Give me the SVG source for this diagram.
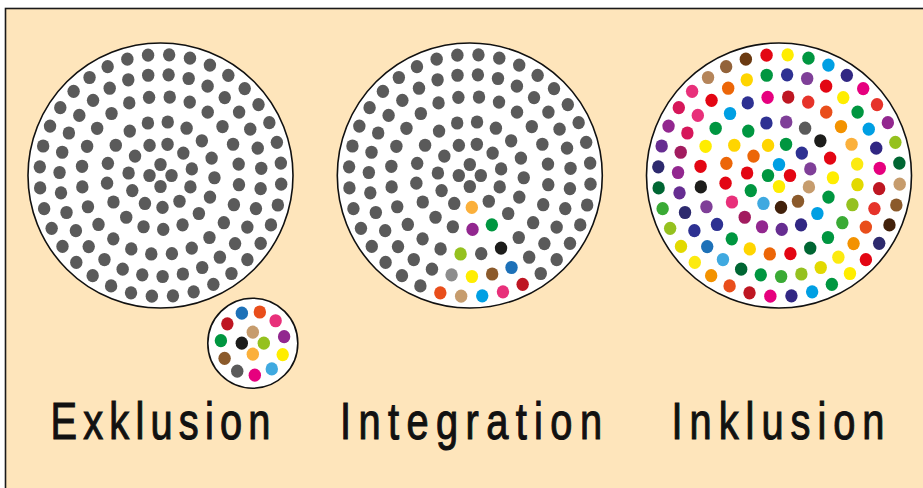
<svg xmlns="http://www.w3.org/2000/svg" xmlns:xlink="http://www.w3.org/1999/xlink" width="923" height="488" viewBox="0 0 923 488">
<style>
.bg{fill:#fee5bb;stroke:#1a1a1a;stroke-width:1.6}
.disk{fill:#fff;stroke:#111;stroke-width:1.6}
.lbl{font-family:"Liberation Sans",Arial,sans-serif;font-size:51px;fill:#111;stroke:#111;stroke-width:1.1;stroke-linejoin:miter}
.g5{fill:#5a5a5a}.lb{fill:#009fe3}.rd{fill:#e30613}.ye{fill:#ffed00}.gr{fill:#009640}.nv{fill:#2e3192}.pu{fill:#7f3f98}.tn{fill:#c69c6d}.br{fill:#8b5a2b}.db{fill:#42210b}.sb{fill:#3fa9e0}.or{fill:#ec6608}.bk{fill:#1d1d1b}.in{fill:#312783}.vi{fill:#662d91}.mp{fill:#92278f}.ma{fill:#a21c5f}.pk{fill:#e8307a}.cr{fill:#be1622}.ro{fill:#e6332a}.oe{fill:#e94e1b}.o2{fill:#f39200}.lo{fill:#fbb03b}.y2{fill:#fcea10}.ol{fill:#e2d900}.li{fill:#95c11f}.lg{fill:#3aaa35}.dg{fill:#006633}.bl{fill:#1d71b8}.dn{fill:#2d2a6e}.rs{fill:#d6175a}.go{fill:#ffd500}.mg{fill:#e6007e}.gy{fill:#8c8c8c}.b1{fill:#b5855a}.b2{fill:#93633a}.b3{fill:#6b3a11}
</style>
<defs>
<ellipse id="d" rx="6.2" ry="6.6"/>
<g id="pat">
<use href="#d" transform="translate(0,-11)"/>
<use href="#d" transform="rotate(90)translate(0,-11)rotate(-90)"/>
<use href="#d" transform="rotate(180)translate(0,-11)rotate(-180)"/>
<use href="#d" transform="rotate(270)translate(0,-11)rotate(-270)"/>
<use href="#d" transform="rotate(-20)translate(0,-32)rotate(20)"/>
<use href="#d" transform="rotate(12.7)translate(0,-32)rotate(-12.7)"/>
<use href="#d" transform="rotate(45.5)translate(0,-32)rotate(-45.5)"/>
<use href="#d" transform="rotate(78.2)translate(0,-32)rotate(-78.2)"/>
<use href="#d" transform="rotate(110.9)translate(0,-32)rotate(-110.9)"/>
<use href="#d" transform="rotate(143.6)translate(0,-32)rotate(-143.6)"/>
<use href="#d" transform="rotate(176.4)translate(0,-32)rotate(-176.4)"/>
<use href="#d" transform="rotate(209.1)translate(0,-32)rotate(-209.1)"/>
<use href="#d" transform="rotate(241.8)translate(0,-32)rotate(-241.8)"/>
<use href="#d" transform="rotate(274.5)translate(0,-32)rotate(-274.5)"/>
<use href="#d" transform="rotate(307.3)translate(0,-32)rotate(-307.3)"/>
<use href="#d" transform="rotate(-13.5)translate(0,-54)rotate(13.5)"/>
<use href="#d" transform="rotate(7.7)translate(0,-54)rotate(-7.7)"/>
<use href="#d" transform="rotate(28.9)translate(0,-54)rotate(-28.9)"/>
<use href="#d" transform="rotate(50)translate(0,-54)rotate(-50)"/>
<use href="#d" transform="rotate(71.2)translate(0,-54)rotate(-71.2)"/>
<use href="#d" transform="rotate(92.4)translate(0,-54)rotate(-92.4)"/>
<use href="#d" transform="rotate(113.6)translate(0,-54)rotate(-113.6)"/>
<use href="#d" transform="rotate(134.7)translate(0,-54)rotate(-134.7)"/>
<use href="#d" transform="rotate(155.9)translate(0,-54)rotate(-155.9)"/>
<use href="#d" transform="rotate(177.1)translate(0,-54)rotate(-177.1)"/>
<use href="#d" transform="rotate(198.3)translate(0,-54)rotate(-198.3)"/>
<use href="#d" transform="rotate(219.4)translate(0,-54)rotate(-219.4)"/>
<use href="#d" transform="rotate(240.6)translate(0,-54)rotate(-240.6)"/>
<use href="#d" transform="rotate(261.8)translate(0,-54)rotate(-261.8)"/>
<use href="#d" transform="rotate(283)translate(0,-54)rotate(-283)"/>
<use href="#d" transform="rotate(304.1)translate(0,-54)rotate(-304.1)"/>
<use href="#d" transform="rotate(325.3)translate(0,-54)rotate(-325.3)"/>
<use href="#d" transform="rotate(-8.3)translate(0,-79)rotate(8.3)"/>
<use href="#d" transform="rotate(6.7)translate(0,-79)rotate(-6.7)"/>
<use href="#d" transform="rotate(21.7)translate(0,-79)rotate(-21.7)"/>
<use href="#d" transform="rotate(36.7)translate(0,-79)rotate(-36.7)"/>
<use href="#d" transform="rotate(51.7)translate(0,-79)rotate(-51.7)"/>
<use href="#d" transform="rotate(66.7)translate(0,-79)rotate(-66.7)"/>
<use href="#d" transform="rotate(81.7)translate(0,-79)rotate(-81.7)"/>
<use href="#d" transform="rotate(96.7)translate(0,-79)rotate(-96.7)"/>
<use href="#d" transform="rotate(111.7)translate(0,-79)rotate(-111.7)"/>
<use href="#d" transform="rotate(126.7)translate(0,-79)rotate(-126.7)"/>
<use href="#d" transform="rotate(141.7)translate(0,-79)rotate(-141.7)"/>
<use href="#d" transform="rotate(156.7)translate(0,-79)rotate(-156.7)"/>
<use href="#d" transform="rotate(171.7)translate(0,-79)rotate(-171.7)"/>
<use href="#d" transform="rotate(186.7)translate(0,-79)rotate(-186.7)"/>
<use href="#d" transform="rotate(201.7)translate(0,-79)rotate(-201.7)"/>
<use href="#d" transform="rotate(216.7)translate(0,-79)rotate(-216.7)"/>
<use href="#d" transform="rotate(231.7)translate(0,-79)rotate(-231.7)"/>
<use href="#d" transform="rotate(246.7)translate(0,-79)rotate(-246.7)"/>
<use href="#d" transform="rotate(261.7)translate(0,-79)rotate(-261.7)"/>
<use href="#d" transform="rotate(276.7)translate(0,-79)rotate(-276.7)"/>
<use href="#d" transform="rotate(291.7)translate(0,-79)rotate(-291.7)"/>
<use href="#d" transform="rotate(306.7)translate(0,-79)rotate(-306.7)"/>
<use href="#d" transform="rotate(321.7)translate(0,-79)rotate(-321.7)"/>
<use href="#d" transform="rotate(336.7)translate(0,-79)rotate(-336.7)"/>
<use href="#d" transform="rotate(-7)translate(0,-101)rotate(7)"/>
<use href="#d" transform="rotate(4.6)translate(0,-101)rotate(-4.6)"/>
<use href="#d" transform="rotate(16.2)translate(0,-101)rotate(-16.2)"/>
<use href="#d" transform="rotate(27.8)translate(0,-101)rotate(-27.8)"/>
<use href="#d" transform="rotate(39.5)translate(0,-101)rotate(-39.5)"/>
<use href="#d" transform="rotate(51.1)translate(0,-101)rotate(-51.1)"/>
<use href="#d" transform="rotate(62.7)translate(0,-101)rotate(-62.7)"/>
<use href="#d" transform="rotate(74.3)translate(0,-101)rotate(-74.3)"/>
<use href="#d" transform="rotate(85.9)translate(0,-101)rotate(-85.9)"/>
<use href="#d" transform="rotate(97.5)translate(0,-101)rotate(-97.5)"/>
<use href="#d" transform="rotate(109.1)translate(0,-101)rotate(-109.1)"/>
<use href="#d" transform="rotate(120.7)translate(0,-101)rotate(-120.7)"/>
<use href="#d" transform="rotate(132.4)translate(0,-101)rotate(-132.4)"/>
<use href="#d" transform="rotate(144)translate(0,-101)rotate(-144)"/>
<use href="#d" transform="rotate(155.6)translate(0,-101)rotate(-155.6)"/>
<use href="#d" transform="rotate(167.2)translate(0,-101)rotate(-167.2)"/>
<use href="#d" transform="rotate(178.8)translate(0,-101)rotate(-178.8)"/>
<use href="#d" transform="rotate(190.4)translate(0,-101)rotate(-190.4)"/>
<use href="#d" transform="rotate(202)translate(0,-101)rotate(-202)"/>
<use href="#d" transform="rotate(213.7)translate(0,-101)rotate(-213.7)"/>
<use href="#d" transform="rotate(225.3)translate(0,-101)rotate(-225.3)"/>
<use href="#d" transform="rotate(236.9)translate(0,-101)rotate(-236.9)"/>
<use href="#d" transform="rotate(248.5)translate(0,-101)rotate(-248.5)"/>
<use href="#d" transform="rotate(260.1)translate(0,-101)rotate(-260.1)"/>
<use href="#d" transform="rotate(271.7)translate(0,-101)rotate(-271.7)"/>
<use href="#d" transform="rotate(283.3)translate(0,-101)rotate(-283.3)"/>
<use href="#d" transform="rotate(294.9)translate(0,-101)rotate(-294.9)"/>
<use href="#d" transform="rotate(306.5)translate(0,-101)rotate(-306.5)"/>
<use href="#d" transform="rotate(318.1)translate(0,-101)rotate(-318.1)"/>
<use href="#d" transform="rotate(329.8)translate(0,-101)rotate(-329.8)"/>
<use href="#d" transform="rotate(341.4)translate(0,-101)rotate(-341.4)"/>
<use href="#d" transform="rotate(-5.9)translate(0,-121)rotate(5.9)"/>
<use href="#d" transform="rotate(4.1)translate(0,-121)rotate(-4.1)"/>
<use href="#d" transform="rotate(14.1)translate(0,-121)rotate(-14.1)"/>
<use href="#d" transform="rotate(24.1)translate(0,-121)rotate(-24.1)"/>
<use href="#d" transform="rotate(34.1)translate(0,-121)rotate(-34.1)"/>
<use href="#d" transform="rotate(44.1)translate(0,-121)rotate(-44.1)"/>
<use href="#d" transform="rotate(54.1)translate(0,-121)rotate(-54.1)"/>
<use href="#d" transform="rotate(64.1)translate(0,-121)rotate(-64.1)"/>
<use href="#d" transform="rotate(74.1)translate(0,-121)rotate(-74.1)"/>
<use href="#d" transform="rotate(84.1)translate(0,-121)rotate(-84.1)"/>
<use href="#d" transform="rotate(94.1)translate(0,-121)rotate(-94.1)"/>
<use href="#d" transform="rotate(104.1)translate(0,-121)rotate(-104.1)"/>
<use href="#d" transform="rotate(114.1)translate(0,-121)rotate(-114.1)"/>
<use href="#d" transform="rotate(124.1)translate(0,-121)rotate(-124.1)"/>
<use href="#d" transform="rotate(134.1)translate(0,-121)rotate(-134.1)"/>
<use href="#d" transform="rotate(144.1)translate(0,-121)rotate(-144.1)"/>
<use href="#d" transform="rotate(154.1)translate(0,-121)rotate(-154.1)"/>
<use href="#d" transform="rotate(164.1)translate(0,-121)rotate(-164.1)"/>
<use href="#d" transform="rotate(174.1)translate(0,-121)rotate(-174.1)"/>
<use href="#d" transform="rotate(184.1)translate(0,-121)rotate(-184.1)"/>
<use href="#d" transform="rotate(194.1)translate(0,-121)rotate(-194.1)"/>
<use href="#d" transform="rotate(204.1)translate(0,-121)rotate(-204.1)"/>
<use href="#d" transform="rotate(214.1)translate(0,-121)rotate(-214.1)"/>
<use href="#d" transform="rotate(224.1)translate(0,-121)rotate(-224.1)"/>
<use href="#d" transform="rotate(234.1)translate(0,-121)rotate(-234.1)"/>
<use href="#d" transform="rotate(244.1)translate(0,-121)rotate(-244.1)"/>
<use href="#d" transform="rotate(254.1)translate(0,-121)rotate(-254.1)"/>
<use href="#d" transform="rotate(264.1)translate(0,-121)rotate(-264.1)"/>
<use href="#d" transform="rotate(274.1)translate(0,-121)rotate(-274.1)"/>
<use href="#d" transform="rotate(284.1)translate(0,-121)rotate(-284.1)"/>
<use href="#d" transform="rotate(294.1)translate(0,-121)rotate(-294.1)"/>
<use href="#d" transform="rotate(304.1)translate(0,-121)rotate(-304.1)"/>
<use href="#d" transform="rotate(314.1)translate(0,-121)rotate(-314.1)"/>
<use href="#d" transform="rotate(324.1)translate(0,-121)rotate(-324.1)"/>
<use href="#d" transform="rotate(334.1)translate(0,-121)rotate(-334.1)"/>
<use href="#d" transform="rotate(344.1)translate(0,-121)rotate(-344.1)"/>
</g>
</defs>

<rect class="bg" x="5.5" y="8.5" width="930" height="500"/>

<g id="exklusion">
<circle class="disk" cx="160.5" cy="175.5" r="132.5"/>
<use href="#pat" class="g5" transform="translate(160.5,175.5)"/>
<circle class="disk" cx="252.8" cy="343.2" r="45"/>
<g transform="translate(252.8,343.2)">
<use href="#d" class="tn" transform="translate(0,-11)"/>
<use href="#d" class="li" transform="rotate(90)translate(0,-11)rotate(-90)"/>
<use href="#d" class="lo" transform="rotate(180)translate(0,-11)rotate(-180)"/>
<use href="#d" class="bk" transform="rotate(270)translate(0,-11)rotate(-270)"/>
<use href="#d" class="bl" transform="rotate(-20)translate(0,-32)rotate(20)"/>
<use href="#d" class="oe" transform="rotate(12.7)translate(0,-32)rotate(-12.7)"/>
<use href="#d" class="pk" transform="rotate(45.5)translate(0,-32)rotate(-45.5)"/>
<use href="#d" class="mp" transform="rotate(78.2)translate(0,-32)rotate(-78.2)"/>
<use href="#d" class="ye" transform="rotate(110.9)translate(0,-32)rotate(-110.9)"/>
<use href="#d" class="sb" transform="rotate(143.6)translate(0,-32)rotate(-143.6)"/>
<use href="#d" class="mg" transform="rotate(176.4)translate(0,-32)rotate(-176.4)"/>
<use href="#d" class="g5" transform="rotate(209.1)translate(0,-32)rotate(-209.1)"/>
<use href="#d" class="br" transform="rotate(241.8)translate(0,-32)rotate(-241.8)"/>
<use href="#d" class="gr" transform="rotate(274.5)translate(0,-32)rotate(-274.5)"/>
<use href="#d" class="cr" transform="rotate(307.3)translate(0,-32)rotate(-307.3)"/>
</g>
</g>

<g id="integration">
<circle class="disk" cx="469.8" cy="175.5" r="132.5"/>
<g class="g5" transform="translate(469.8,175.5)">
<use href="#d" transform="translate(0,-11)"/>
<use href="#d" transform="rotate(90)translate(0,-11)rotate(-90)"/>
<use href="#d" transform="rotate(180)translate(0,-11)rotate(-180)"/>
<use href="#d" transform="rotate(270)translate(0,-11)rotate(-270)"/>
<use href="#d" transform="rotate(-20)translate(0,-32)rotate(20)"/>
<use href="#d" transform="rotate(12.7)translate(0,-32)rotate(-12.7)"/>
<use href="#d" transform="rotate(45.5)translate(0,-32)rotate(-45.5)"/>
<use href="#d" transform="rotate(78.2)translate(0,-32)rotate(-78.2)"/>
<use href="#d" transform="rotate(110.9)translate(0,-32)rotate(-110.9)"/>
<use href="#d" transform="rotate(143.6)translate(0,-32)rotate(-143.6)"/>
<use href="#d" class="lo" transform="rotate(176.4)translate(0,-32)rotate(-176.4)"/>
<use href="#d" transform="rotate(209.1)translate(0,-32)rotate(-209.1)"/>
<use href="#d" transform="rotate(241.8)translate(0,-32)rotate(-241.8)"/>
<use href="#d" transform="rotate(274.5)translate(0,-32)rotate(-274.5)"/>
<use href="#d" transform="rotate(307.3)translate(0,-32)rotate(-307.3)"/>
<use href="#d" transform="rotate(-13.5)translate(0,-54)rotate(13.5)"/>
<use href="#d" transform="rotate(7.7)translate(0,-54)rotate(-7.7)"/>
<use href="#d" transform="rotate(28.9)translate(0,-54)rotate(-28.9)"/>
<use href="#d" transform="rotate(50)translate(0,-54)rotate(-50)"/>
<use href="#d" transform="rotate(71.2)translate(0,-54)rotate(-71.2)"/>
<use href="#d" transform="rotate(92.4)translate(0,-54)rotate(-92.4)"/>
<use href="#d" transform="rotate(113.6)translate(0,-54)rotate(-113.6)"/>
<use href="#d" transform="rotate(134.7)translate(0,-54)rotate(-134.7)"/>
<use href="#d" class="gr" transform="rotate(155.9)translate(0,-54)rotate(-155.9)"/>
<use href="#d" class="mp" transform="rotate(177.1)translate(0,-54)rotate(-177.1)"/>
<use href="#d" transform="rotate(198.3)translate(0,-54)rotate(-198.3)"/>
<use href="#d" transform="rotate(219.4)translate(0,-54)rotate(-219.4)"/>
<use href="#d" transform="rotate(240.6)translate(0,-54)rotate(-240.6)"/>
<use href="#d" transform="rotate(261.8)translate(0,-54)rotate(-261.8)"/>
<use href="#d" transform="rotate(283)translate(0,-54)rotate(-283)"/>
<use href="#d" transform="rotate(304.1)translate(0,-54)rotate(-304.1)"/>
<use href="#d" transform="rotate(325.3)translate(0,-54)rotate(-325.3)"/>
<use href="#d" transform="rotate(-8.3)translate(0,-79)rotate(8.3)"/>
<use href="#d" transform="rotate(6.7)translate(0,-79)rotate(-6.7)"/>
<use href="#d" transform="rotate(21.7)translate(0,-79)rotate(-21.7)"/>
<use href="#d" transform="rotate(36.7)translate(0,-79)rotate(-36.7)"/>
<use href="#d" transform="rotate(51.7)translate(0,-79)rotate(-51.7)"/>
<use href="#d" transform="rotate(66.7)translate(0,-79)rotate(-66.7)"/>
<use href="#d" transform="rotate(81.7)translate(0,-79)rotate(-81.7)"/>
<use href="#d" transform="rotate(96.7)translate(0,-79)rotate(-96.7)"/>
<use href="#d" transform="rotate(111.7)translate(0,-79)rotate(-111.7)"/>
<use href="#d" transform="rotate(126.7)translate(0,-79)rotate(-126.7)"/>
<use href="#d" transform="rotate(141.7)translate(0,-79)rotate(-141.7)"/>
<use href="#d" class="bk" transform="rotate(156.7)translate(0,-79)rotate(-156.7)"/>
<use href="#d" transform="rotate(171.7)translate(0,-79)rotate(-171.7)"/>
<use href="#d" class="li" transform="rotate(186.7)translate(0,-79)rotate(-186.7)"/>
<use href="#d" transform="rotate(201.7)translate(0,-79)rotate(-201.7)"/>
<use href="#d" transform="rotate(216.7)translate(0,-79)rotate(-216.7)"/>
<use href="#d" transform="rotate(231.7)translate(0,-79)rotate(-231.7)"/>
<use href="#d" transform="rotate(246.7)translate(0,-79)rotate(-246.7)"/>
<use href="#d" transform="rotate(261.7)translate(0,-79)rotate(-261.7)"/>
<use href="#d" transform="rotate(276.7)translate(0,-79)rotate(-276.7)"/>
<use href="#d" transform="rotate(291.7)translate(0,-79)rotate(-291.7)"/>
<use href="#d" transform="rotate(306.7)translate(0,-79)rotate(-306.7)"/>
<use href="#d" transform="rotate(321.7)translate(0,-79)rotate(-321.7)"/>
<use href="#d" transform="rotate(336.7)translate(0,-79)rotate(-336.7)"/>
<use href="#d" transform="rotate(-7)translate(0,-101)rotate(7)"/>
<use href="#d" transform="rotate(4.6)translate(0,-101)rotate(-4.6)"/>
<use href="#d" transform="rotate(16.2)translate(0,-101)rotate(-16.2)"/>
<use href="#d" transform="rotate(27.8)translate(0,-101)rotate(-27.8)"/>
<use href="#d" transform="rotate(39.5)translate(0,-101)rotate(-39.5)"/>
<use href="#d" transform="rotate(51.1)translate(0,-101)rotate(-51.1)"/>
<use href="#d" transform="rotate(62.7)translate(0,-101)rotate(-62.7)"/>
<use href="#d" transform="rotate(74.3)translate(0,-101)rotate(-74.3)"/>
<use href="#d" transform="rotate(85.9)translate(0,-101)rotate(-85.9)"/>
<use href="#d" transform="rotate(97.5)translate(0,-101)rotate(-97.5)"/>
<use href="#d" transform="rotate(109.1)translate(0,-101)rotate(-109.1)"/>
<use href="#d" transform="rotate(120.7)translate(0,-101)rotate(-120.7)"/>
<use href="#d" transform="rotate(132.4)translate(0,-101)rotate(-132.4)"/>
<use href="#d" transform="rotate(144)translate(0,-101)rotate(-144)"/>
<use href="#d" class="bl" transform="rotate(155.6)translate(0,-101)rotate(-155.6)"/>
<use href="#d" class="br" transform="rotate(167.2)translate(0,-101)rotate(-167.2)"/>
<use href="#d" class="ye" transform="rotate(178.8)translate(0,-101)rotate(-178.8)"/>
<use href="#d" class="gy" transform="rotate(190.4)translate(0,-101)rotate(-190.4)"/>
<use href="#d" transform="rotate(202)translate(0,-101)rotate(-202)"/>
<use href="#d" transform="rotate(213.7)translate(0,-101)rotate(-213.7)"/>
<use href="#d" transform="rotate(225.3)translate(0,-101)rotate(-225.3)"/>
<use href="#d" transform="rotate(236.9)translate(0,-101)rotate(-236.9)"/>
<use href="#d" transform="rotate(248.5)translate(0,-101)rotate(-248.5)"/>
<use href="#d" transform="rotate(260.1)translate(0,-101)rotate(-260.1)"/>
<use href="#d" transform="rotate(271.7)translate(0,-101)rotate(-271.7)"/>
<use href="#d" transform="rotate(283.3)translate(0,-101)rotate(-283.3)"/>
<use href="#d" transform="rotate(294.9)translate(0,-101)rotate(-294.9)"/>
<use href="#d" transform="rotate(306.5)translate(0,-101)rotate(-306.5)"/>
<use href="#d" transform="rotate(318.1)translate(0,-101)rotate(-318.1)"/>
<use href="#d" transform="rotate(329.8)translate(0,-101)rotate(-329.8)"/>
<use href="#d" transform="rotate(341.4)translate(0,-101)rotate(-341.4)"/>
<use href="#d" transform="rotate(-5.9)translate(0,-121)rotate(5.9)"/>
<use href="#d" transform="rotate(4.1)translate(0,-121)rotate(-4.1)"/>
<use href="#d" transform="rotate(14.1)translate(0,-121)rotate(-14.1)"/>
<use href="#d" transform="rotate(24.1)translate(0,-121)rotate(-24.1)"/>
<use href="#d" transform="rotate(34.1)translate(0,-121)rotate(-34.1)"/>
<use href="#d" transform="rotate(44.1)translate(0,-121)rotate(-44.1)"/>
<use href="#d" transform="rotate(54.1)translate(0,-121)rotate(-54.1)"/>
<use href="#d" transform="rotate(64.1)translate(0,-121)rotate(-64.1)"/>
<use href="#d" transform="rotate(74.1)translate(0,-121)rotate(-74.1)"/>
<use href="#d" transform="rotate(84.1)translate(0,-121)rotate(-84.1)"/>
<use href="#d" transform="rotate(94.1)translate(0,-121)rotate(-94.1)"/>
<use href="#d" transform="rotate(104.1)translate(0,-121)rotate(-104.1)"/>
<use href="#d" transform="rotate(114.1)translate(0,-121)rotate(-114.1)"/>
<use href="#d" transform="rotate(124.1)translate(0,-121)rotate(-124.1)"/>
<use href="#d" transform="rotate(134.1)translate(0,-121)rotate(-134.1)"/>
<use href="#d" transform="rotate(144.1)translate(0,-121)rotate(-144.1)"/>
<use href="#d" class="cr" transform="rotate(154.1)translate(0,-121)rotate(-154.1)"/>
<use href="#d" class="pk" transform="rotate(164.1)translate(0,-121)rotate(-164.1)"/>
<use href="#d" class="lb" transform="rotate(174.1)translate(0,-121)rotate(-174.1)"/>
<use href="#d" class="tn" transform="rotate(184.1)translate(0,-121)rotate(-184.1)"/>
<use href="#d" class="oe" transform="rotate(194.1)translate(0,-121)rotate(-194.1)"/>
<use href="#d" transform="rotate(204.1)translate(0,-121)rotate(-204.1)"/>
<use href="#d" transform="rotate(214.1)translate(0,-121)rotate(-214.1)"/>
<use href="#d" transform="rotate(224.1)translate(0,-121)rotate(-224.1)"/>
<use href="#d" transform="rotate(234.1)translate(0,-121)rotate(-234.1)"/>
<use href="#d" transform="rotate(244.1)translate(0,-121)rotate(-244.1)"/>
<use href="#d" transform="rotate(254.1)translate(0,-121)rotate(-254.1)"/>
<use href="#d" transform="rotate(264.1)translate(0,-121)rotate(-264.1)"/>
<use href="#d" transform="rotate(274.1)translate(0,-121)rotate(-274.1)"/>
<use href="#d" transform="rotate(284.1)translate(0,-121)rotate(-284.1)"/>
<use href="#d" transform="rotate(294.1)translate(0,-121)rotate(-294.1)"/>
<use href="#d" transform="rotate(304.1)translate(0,-121)rotate(-304.1)"/>
<use href="#d" transform="rotate(314.1)translate(0,-121)rotate(-314.1)"/>
<use href="#d" transform="rotate(324.1)translate(0,-121)rotate(-324.1)"/>
<use href="#d" transform="rotate(334.1)translate(0,-121)rotate(-334.1)"/>
<use href="#d" transform="rotate(344.1)translate(0,-121)rotate(-344.1)"/>
</g>
</g>

<g id="inklusion">
<circle class="disk" cx="779" cy="175.5" r="132.5"/>
<g transform="translate(779,175.5)">
<use href="#d" class="lb" transform="translate(0,-11)"/>
<use href="#d" class="rd" transform="rotate(90)translate(0,-11)rotate(-90)"/>
<use href="#d" class="ye" transform="rotate(180)translate(0,-11)rotate(-180)"/>
<use href="#d" class="gr" transform="rotate(270)translate(0,-11)rotate(-270)"/>
<use href="#d" class="go" transform="rotate(-20)translate(0,-32)rotate(20)"/>
<use href="#d" class="gr" transform="rotate(12.7)translate(0,-32)rotate(-12.7)"/>
<use href="#d" class="nv" transform="rotate(45.5)translate(0,-32)rotate(-45.5)"/>
<use href="#d" class="pu" transform="rotate(78.2)translate(0,-32)rotate(-78.2)"/>
<use href="#d" class="tn" transform="rotate(110.9)translate(0,-32)rotate(-110.9)"/>
<use href="#d" class="br" transform="rotate(143.6)translate(0,-32)rotate(-143.6)"/>
<use href="#d" class="db" transform="rotate(176.4)translate(0,-32)rotate(-176.4)"/>
<use href="#d" class="sb" transform="rotate(209.1)translate(0,-32)rotate(-209.1)"/>
<use href="#d" class="gr" transform="rotate(241.8)translate(0,-32)rotate(-241.8)"/>
<use href="#d" class="rd" transform="rotate(274.5)translate(0,-32)rotate(-274.5)"/>
<use href="#d" class="or" transform="rotate(307.3)translate(0,-32)rotate(-307.3)"/>
<use href="#d" class="nv" transform="rotate(-13.5)translate(0,-54)rotate(13.5)"/>
<use href="#d" class="pu" transform="rotate(7.7)translate(0,-54)rotate(-7.7)"/>
<use href="#d" class="g5" transform="rotate(28.9)translate(0,-54)rotate(-28.9)"/>
<use href="#d" class="bk" transform="rotate(50)translate(0,-54)rotate(-50)"/>
<use href="#d" class="rd" transform="rotate(71.2)translate(0,-54)rotate(-71.2)"/>
<use href="#d" class="ye" transform="rotate(92.4)translate(0,-54)rotate(-92.4)"/>
<use href="#d" class="gr" transform="rotate(113.6)translate(0,-54)rotate(-113.6)"/>
<use href="#d" class="lb" transform="rotate(134.7)translate(0,-54)rotate(-134.7)"/>
<use href="#d" class="in" transform="rotate(155.9)translate(0,-54)rotate(-155.9)"/>
<use href="#d" class="vi" transform="rotate(177.1)translate(0,-54)rotate(-177.1)"/>
<use href="#d" class="mp" transform="rotate(198.3)translate(0,-54)rotate(-198.3)"/>
<use href="#d" class="ma" transform="rotate(219.4)translate(0,-54)rotate(-219.4)"/>
<use href="#d" class="pk" transform="rotate(240.6)translate(0,-54)rotate(-240.6)"/>
<use href="#d" class="rd" transform="rotate(261.8)translate(0,-54)rotate(-261.8)"/>
<use href="#d" class="or" transform="rotate(283)translate(0,-54)rotate(-283)"/>
<use href="#d" class="go" transform="rotate(304.1)translate(0,-54)rotate(-304.1)"/>
<use href="#d" class="gr" transform="rotate(325.3)translate(0,-54)rotate(-325.3)"/>
<use href="#d" class="mg" transform="rotate(-8.3)translate(0,-79)rotate(8.3)"/>
<use href="#d" class="cr" transform="rotate(6.7)translate(0,-79)rotate(-6.7)"/>
<use href="#d" class="ro" transform="rotate(21.7)translate(0,-79)rotate(-21.7)"/>
<use href="#d" class="oe" transform="rotate(36.7)translate(0,-79)rotate(-36.7)"/>
<use href="#d" class="o2" transform="rotate(51.7)translate(0,-79)rotate(-51.7)"/>
<use href="#d" class="lo" transform="rotate(66.7)translate(0,-79)rotate(-66.7)"/>
<use href="#d" class="y2" transform="rotate(81.7)translate(0,-79)rotate(-81.7)"/>
<use href="#d" class="ol" transform="rotate(96.7)translate(0,-79)rotate(-96.7)"/>
<use href="#d" class="li" transform="rotate(111.7)translate(0,-79)rotate(-111.7)"/>
<use href="#d" class="lg" transform="rotate(126.7)translate(0,-79)rotate(-126.7)"/>
<use href="#d" class="gr" transform="rotate(141.7)translate(0,-79)rotate(-141.7)"/>
<use href="#d" class="dg" transform="rotate(156.7)translate(0,-79)rotate(-156.7)"/>
<use href="#d" class="rd" transform="rotate(171.7)translate(0,-79)rotate(-171.7)"/>
<use href="#d" class="or" transform="rotate(186.7)translate(0,-79)rotate(-186.7)"/>
<use href="#d" class="go" transform="rotate(201.7)translate(0,-79)rotate(-201.7)"/>
<use href="#d" class="gr" transform="rotate(216.7)translate(0,-79)rotate(-216.7)"/>
<use href="#d" class="nv" transform="rotate(231.7)translate(0,-79)rotate(-231.7)"/>
<use href="#d" class="pu" transform="rotate(246.7)translate(0,-79)rotate(-246.7)"/>
<use href="#d" class="bk" transform="rotate(261.7)translate(0,-79)rotate(-261.7)"/>
<use href="#d" class="rd" transform="rotate(276.7)translate(0,-79)rotate(-276.7)"/>
<use href="#d" class="ye" transform="rotate(291.7)translate(0,-79)rotate(-291.7)"/>
<use href="#d" class="gr" transform="rotate(306.7)translate(0,-79)rotate(-306.7)"/>
<use href="#d" class="lb" transform="rotate(321.7)translate(0,-79)rotate(-321.7)"/>
<use href="#d" class="nv" transform="rotate(336.7)translate(0,-79)rotate(-336.7)"/>
<use href="#d" class="gr" transform="rotate(-7)translate(0,-101)rotate(7)"/>
<use href="#d" class="nv" transform="rotate(4.6)translate(0,-101)rotate(-4.6)"/>
<use href="#d" class="pu" transform="rotate(16.2)translate(0,-101)rotate(-16.2)"/>
<use href="#d" class="rd" transform="rotate(27.8)translate(0,-101)rotate(-27.8)"/>
<use href="#d" class="ye" transform="rotate(39.5)translate(0,-101)rotate(-39.5)"/>
<use href="#d" class="gr" transform="rotate(51.1)translate(0,-101)rotate(-51.1)"/>
<use href="#d" class="lb" transform="rotate(62.7)translate(0,-101)rotate(-62.7)"/>
<use href="#d" class="in" transform="rotate(74.3)translate(0,-101)rotate(-74.3)"/>
<use href="#d" class="mg" transform="rotate(85.9)translate(0,-101)rotate(-85.9)"/>
<use href="#d" class="cr" transform="rotate(97.5)translate(0,-101)rotate(-97.5)"/>
<use href="#d" class="ro" transform="rotate(109.1)translate(0,-101)rotate(-109.1)"/>
<use href="#d" class="oe" transform="rotate(120.7)translate(0,-101)rotate(-120.7)"/>
<use href="#d" class="o2" transform="rotate(132.4)translate(0,-101)rotate(-132.4)"/>
<use href="#d" class="y2" transform="rotate(144)translate(0,-101)rotate(-144)"/>
<use href="#d" class="ol" transform="rotate(155.6)translate(0,-101)rotate(-155.6)"/>
<use href="#d" class="li" transform="rotate(167.2)translate(0,-101)rotate(-167.2)"/>
<use href="#d" class="lg" transform="rotate(178.8)translate(0,-101)rotate(-178.8)"/>
<use href="#d" class="gr" transform="rotate(190.4)translate(0,-101)rotate(-190.4)"/>
<use href="#d" class="dg" transform="rotate(202)translate(0,-101)rotate(-202)"/>
<use href="#d" class="sb" transform="rotate(213.7)translate(0,-101)rotate(-213.7)"/>
<use href="#d" class="bl" transform="rotate(225.3)translate(0,-101)rotate(-225.3)"/>
<use href="#d" class="nv" transform="rotate(236.9)translate(0,-101)rotate(-236.9)"/>
<use href="#d" class="dn" transform="rotate(248.5)translate(0,-101)rotate(-248.5)"/>
<use href="#d" class="vi" transform="rotate(260.1)translate(0,-101)rotate(-260.1)"/>
<use href="#d" class="mp" transform="rotate(271.7)translate(0,-101)rotate(-271.7)"/>
<use href="#d" class="ma" transform="rotate(283.3)translate(0,-101)rotate(-283.3)"/>
<use href="#d" class="rs" transform="rotate(294.9)translate(0,-101)rotate(-294.9)"/>
<use href="#d" class="pk" transform="rotate(306.5)translate(0,-101)rotate(-306.5)"/>
<use href="#d" class="rd" transform="rotate(318.1)translate(0,-101)rotate(-318.1)"/>
<use href="#d" class="or" transform="rotate(329.8)translate(0,-101)rotate(-329.8)"/>
<use href="#d" class="go" transform="rotate(341.4)translate(0,-101)rotate(-341.4)"/>
<use href="#d" class="rd" transform="rotate(-5.9)translate(0,-121)rotate(5.9)"/>
<use href="#d" class="ye" transform="rotate(4.1)translate(0,-121)rotate(-4.1)"/>
<use href="#d" class="gr" transform="rotate(14.1)translate(0,-121)rotate(-14.1)"/>
<use href="#d" class="lb" transform="rotate(24.1)translate(0,-121)rotate(-24.1)"/>
<use href="#d" class="in" transform="rotate(34.1)translate(0,-121)rotate(-34.1)"/>
<use href="#d" class="mg" transform="rotate(44.1)translate(0,-121)rotate(-44.1)"/>
<use href="#d" class="ro" transform="rotate(54.1)translate(0,-121)rotate(-54.1)"/>
<use href="#d" class="mp" transform="rotate(64.1)translate(0,-121)rotate(-64.1)"/>
<use href="#d" class="li" transform="rotate(74.1)translate(0,-121)rotate(-74.1)"/>
<use href="#d" class="dg" transform="rotate(84.1)translate(0,-121)rotate(-84.1)"/>
<use href="#d" class="tn" transform="rotate(94.1)translate(0,-121)rotate(-94.1)"/>
<use href="#d" class="br" transform="rotate(104.1)translate(0,-121)rotate(-104.1)"/>
<use href="#d" class="db" transform="rotate(114.1)translate(0,-121)rotate(-114.1)"/>
<use href="#d" class="dn" transform="rotate(124.1)translate(0,-121)rotate(-124.1)"/>
<use href="#d" class="rd" transform="rotate(134.1)translate(0,-121)rotate(-134.1)"/>
<use href="#d" class="ye" transform="rotate(144.1)translate(0,-121)rotate(-144.1)"/>
<use href="#d" class="gr" transform="rotate(154.1)translate(0,-121)rotate(-154.1)"/>
<use href="#d" class="lb" transform="rotate(164.1)translate(0,-121)rotate(-164.1)"/>
<use href="#d" class="in" transform="rotate(174.1)translate(0,-121)rotate(-174.1)"/>
<use href="#d" class="mg" transform="rotate(184.1)translate(0,-121)rotate(-184.1)"/>
<use href="#d" class="cr" transform="rotate(194.1)translate(0,-121)rotate(-194.1)"/>
<use href="#d" class="oe" transform="rotate(204.1)translate(0,-121)rotate(-204.1)"/>
<use href="#d" class="o2" transform="rotate(214.1)translate(0,-121)rotate(-214.1)"/>
<use href="#d" class="y2" transform="rotate(224.1)translate(0,-121)rotate(-224.1)"/>
<use href="#d" class="ol" transform="rotate(234.1)translate(0,-121)rotate(-234.1)"/>
<use href="#d" class="li" transform="rotate(244.1)translate(0,-121)rotate(-244.1)"/>
<use href="#d" class="lg" transform="rotate(254.1)translate(0,-121)rotate(-254.1)"/>
<use href="#d" class="dg" transform="rotate(264.1)translate(0,-121)rotate(-264.1)"/>
<use href="#d" class="dn" transform="rotate(274.1)translate(0,-121)rotate(-274.1)"/>
<use href="#d" class="vi" transform="rotate(284.1)translate(0,-121)rotate(-284.1)"/>
<use href="#d" class="mp" transform="rotate(294.1)translate(0,-121)rotate(-294.1)"/>
<use href="#d" class="rs" transform="rotate(304.1)translate(0,-121)rotate(-304.1)"/>
<use href="#d" class="pk" transform="rotate(314.1)translate(0,-121)rotate(-314.1)"/>
<use href="#d" class="b1" transform="rotate(324.1)translate(0,-121)rotate(-324.1)"/>
<use href="#d" class="b2" transform="rotate(334.1)translate(0,-121)rotate(-334.1)"/>
<use href="#d" class="b3" transform="rotate(344.1)translate(0,-121)rotate(-344.1)"/>
</g>
</g>

<g id="labels">
<text class="lbl" transform="translate(160.5,439.3) scale(0.78,1)" text-anchor="middle" textLength="282" lengthAdjust="spacing">Exklusion</text>
<text class="lbl" transform="translate(471,439.3) scale(0.78,1)" text-anchor="middle" textLength="336" lengthAdjust="spacing">Integration</text>
<text class="lbl" transform="translate(778,439.3) scale(0.78,1)" text-anchor="middle" textLength="273" lengthAdjust="spacing">Inklusion</text>
</g>
</svg>
